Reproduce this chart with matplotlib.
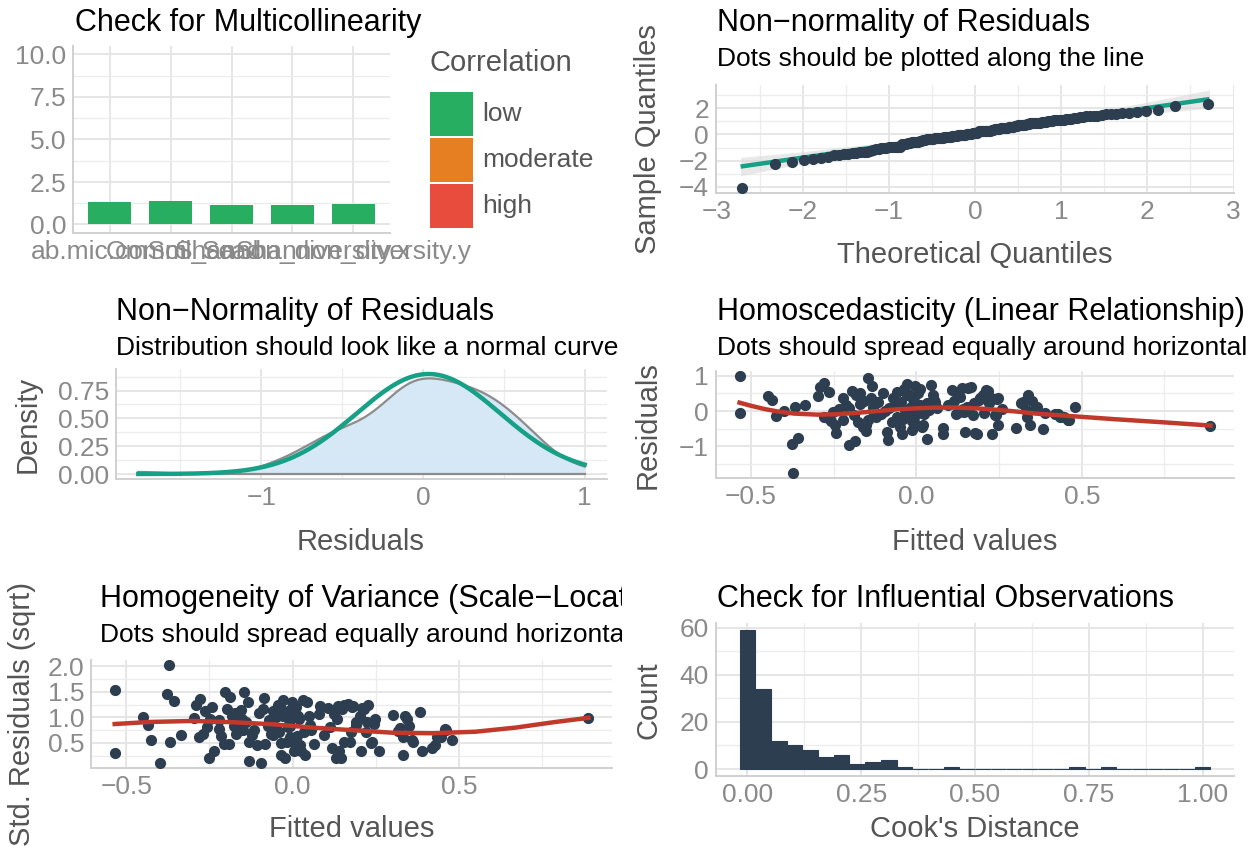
"""Model diagnostics panel (check_model style) rebuilt with matplotlib."""
from statistics import NormalDist

import numpy as np
import matplotlib
matplotlib.use("Agg")
import matplotlib.pyplot as plt
from matplotlib.patches import Rectangle
from matplotlib.ticker import MultipleLocator, FuncFormatter
from matplotlib.transforms import Bbox, TransformedBbox

plt.rcParams['font.family'] = ['Liberation Sans', 'DejaVu Sans']

W, H, DPI = 1255, 846, 100

# ---------------- data ----------------
vif_terms = ["ab.mic.comm", "OmSoil_ca", "Scad", "Shannon_diversity.x", "Shannon_diversity.y"]
vif_values = [1.35, 1.40, 1.12, 1.12, 1.18]
corr_levels = ["low", "moderate", "high"]

fitted_values = [
    -0.535, -0.533, -0.450, -0.436, -0.426, -0.400, -0.377, -0.358, -0.373, -0.368,
    -0.337, -0.297, -0.291, -0.279, -0.263, -0.281, -0.268, -0.258, -0.247, -0.242,
    -0.252, -0.235, -0.221, -0.214, -0.222, -0.205, -0.203, -0.190, -0.187, -0.196,
    -0.182, -0.172, -0.170, -0.176, -0.162, -0.160, -0.154, -0.152, -0.148, -0.146,
    -0.139, -0.133, -0.131, -0.130, -0.122, -0.115, -0.108, -0.101, -0.094, -0.090,
    -0.085, -0.082, -0.075, -0.072, -0.065, -0.060, -0.058, -0.050, -0.047, -0.044,
    -0.040, -0.038, -0.035, -0.034, -0.029, -0.028, -0.025, -0.022, -0.018, -0.015,
    -0.015, -0.010, -0.008, -0.008, -0.008, -0.003, 0.000, 0.005, 0.006, 0.010,
    0.012, 0.017, 0.019, 0.022, 0.025, 0.031, 0.033, 0.037, 0.043, 0.049,
    0.053, 0.056, 0.063, 0.079, 0.081, 0.095, 0.107, 0.112, 0.119, 0.124,
    0.130, 0.132, 0.137, 0.140, 0.145, 0.148, 0.154, 0.155, 0.166, 0.172,
    0.175, 0.178, 0.183, 0.190, 0.192, 0.202, 0.205, 0.210, 0.216, 0.220,
    0.225, 0.228, 0.236, 0.240, 0.244, 0.246, 0.248, 0.260, 0.302, 0.317,
    0.322, 0.332, 0.333, 0.337, 0.344, 0.350, 0.360, 0.363, 0.383, 0.390,
    0.419, 0.428, 0.435, 0.445, 0.459, 0.462, 0.478, 0.889,
]
residuals = [
    1.00, -0.04, 0.43, 0.31, -0.13, -0.005, -0.92, -0.75, -1.76, 0.12,
    0.18, 0.42, 0.67, 0.79, 0.54, -0.16, -0.20, -0.28, -0.40, -0.62,
    -0.02, 0.05, 0.38, 0.17, -0.26, 0.10, -0.96, -0.10, -0.84, 0.58,
    0.46, 0.50, 0.20, -0.30, -0.45, 0.30, -0.57, -0.40, -0.25, 0.95,
    0.36, 0.72, 0.12, -0.01, -0.18, 0.25, -0.09, 0.50, 0.006, -0.59,
    -0.82, 0.10, -0.30, 0.38, 0.20, 0.55, -0.18, -0.44, 0.25, -0.66,
    -0.22, 0.62, 0.03, -0.11, 0.78, 0.46, 0.48, -0.02, 0.12, -0.28,
    -0.54, 0.33, 0.41, -0.16, -0.30, 0.72, 0.12, -0.05, 0.50, 0.62,
    0.17, -0.45, -0.40, -0.09, 0.05, -0.78, 0.22, 0.03, 0.73, 0.45,
    0.31, 0.25, 0.10, -0.48, -0.64, 0.18, 0.60, 0.29, -0.07, 0.48,
    -0.02, 0.41, 0.65, 0.05, -0.02, -0.59, 0.12, 0.66, 0.68, -0.12,
    0.22, -0.62, -0.64, 0.31, 0.36, 0.45, -0.05, 0.60, 0.58, 0.22,
    0.36, -0.66, -0.11, -0.12, 0.33, 0.36, -0.40, 0.05, -0.47, 0.23,
    0.27, 0.03, -0.16, 0.46, -0.40, 0.30, 0.13, 0.12, -0.52, -0.05,
    -0.07, -0.09, -0.16, -0.16, -0.26, -0.24, 0.13, -0.42,
]
resid_sigma = 0.43

qq_line_x = [-2.72, 2.72]
qq_line_y = [-2.45, 2.70]
qq_band_x = [-2.72, -2.0, -1.0, 0.0, 1.0, 2.0, 2.72]
qq_band_lo = [-3.15, -2.22, -1.07, -0.05, 0.83, 1.58, 2.00]
qq_band_hi = [-1.75, -1.32, -0.57, 0.30, 1.31, 2.46, 3.40]

loess_resid_x = [-0.535, -0.50, -0.46, -0.42, -0.37, -0.30, -0.24, -0.18, -0.12, -0.06, 0.0,
                 0.06, 0.12, 0.18, 0.24, 0.30, 0.36, 0.42, 0.48, 0.60, 0.75, 0.889]
loess_resid_y = [0.24, 0.15, 0.06, -0.01, -0.07, -0.10, -0.09, -0.05, 0.0, 0.05, 0.08,
                 0.10, 0.10, 0.08, 0.04, -0.01, -0.07, -0.11, -0.15, -0.23, -0.32, -0.41]

loess_scale_x = [-0.535, -0.43, -0.30, -0.18, -0.06, 0.06, 0.18, 0.30, 0.42, 0.55, 0.67, 0.79, 0.889]
loess_scale_y = [0.87, 0.91, 0.93, 0.905, 0.865, 0.80, 0.75, 0.70, 0.69, 0.72, 0.80, 0.91, 0.99]

cook_counts = [59, 34, 12, 10, 8, 5, 6, 2, 3, 4, 1, 0, 0, 1, 0,
               0, 0, 0, 0, 0, 0, 1, 0, 1, 0, 0, 0, 0, 0, 1]
cook_max = 1.0

# ---------------- style ----------------
C_DOT = "#2c3e50"
C_TEAL = "#16a085"
C_RED = "#c0392b"
C_CORR = {"low": "#27ae60", "moderate": "#e67e22", "high": "#e74c3c"}
C_GRID = "#e4e4e4"
C_GRID_MINOR = "#ececec"
C_AXIS = "#d0d0d0"
C_TICK = "#8a8a8a"
C_LAB = "#555555"

FS_TITLE = 22
FS_SUB = 19
FS_AXT = 21
FS_TICK = 19


def expand(lo, hi, f=0.05):
    d = (hi - lo) * f
    return lo - d, hi + d


def minus_fmt(dec):
    return FuncFormatter(lambda v, _: f"{v:.{dec}f}".replace("-", "\u2212"))


def add_panel(fig, left, top, right, bottom):
    return fig.add_axes([left / W, 1 - bottom / H, (right - left) / W, (bottom - top) / H])


def lucid(ax, xmaj=None, xmin=None, ymaj=None, ymin=None):
    for s in ("top", "right"):
        ax.spines[s].set_visible(False)
    for s in ("left", "bottom"):
        ax.spines[s].set_color(C_AXIS)
        ax.spines[s].set_linewidth(1.4)
    if xmaj:
        ax.xaxis.set_major_locator(MultipleLocator(xmaj))
        ax.xaxis.set_minor_locator(MultipleLocator(xmin))
    if ymaj:
        ax.yaxis.set_major_locator(MultipleLocator(ymaj))
        ax.yaxis.set_minor_locator(MultipleLocator(ymin))
    ax.tick_params(which="both", length=0, labelsize=FS_TICK, labelcolor=C_TICK)
    ax.tick_params(axis="x", pad=5)
    ax.tick_params(axis="y", pad=5)
    ax.grid(True, which="major", color=C_GRID, lw=1.3)
    ax.grid(True, which="minor", color=C_GRID_MINOR, lw=0.9)
    ax.set_axisbelow(True)


def fig_text(fig, x, y, s, clip_right=None, **kw):
    t = fig.text(x / W, 1 - y / H, s, **kw)
    if clip_right is not None:
        t.set_clip_box(TransformedBbox(Bbox.from_extents(0, 0, clip_right / W, 1), fig.transFigure))
        t.set_clip_on(True)
    return t


def titles(fig, x, y, title, sub=None, clip_right=None):
    fig_text(fig, x, y, title, clip_right, fontsize=FS_TITLE, va="baseline", color="black")
    if sub:
        fig_text(fig, x, y + 35, sub, clip_right, fontsize=FS_SUB, va="baseline", color="black")


def xlabel(fig, x, y, s):
    fig_text(fig, x, y, s, fontsize=FS_AXT, va="baseline", ha="center", color=C_LAB)


def ylabel(fig, x, y, s):
    fig_text(fig, x, y, s, fontsize=FS_AXT, va="center", ha="center", rotation=90, color=C_LAB)


fig = plt.figure(figsize=(W / DPI, H / DPI), dpi=DPI)

r = np.array(residuals)
fv = np.array(fitted_values)
n = r.size

# ---- 1. multicollinearity ----
ax = add_panel(fig, 73, 46, 390, 233)
lucid(ax, ymaj=2.5, ymin=1.25)
pos = np.arange(1, len(vif_terms) + 1)
lev = ["low" if v < 5 else ("moderate" if v < 10 else "high") for v in vif_values]
ax.bar(pos, vif_values, width=0.7, color=[C_CORR[l] for l in lev], zorder=3)
ax.set_xticks(pos)
ax.set_xticklabels(vif_terms)
ax.set_xlim(0.4, len(vif_terms) + 0.6)
ax.set_ylim(-0.5, 10.5)
ax.yaxis.set_major_formatter(minus_fmt(1))
titles(fig, 75, 31, "Check for Multicollinearity", clip_right=622)
fig_text(fig, 430, 63, "Correlation", fontsize=21, va="center", color=C_LAB)
for i, l in enumerate(corr_levels):
    top = 92 + i * 46
    fig.add_artist(Rectangle((430 / W, 1 - (top + 44) / H), 43 / W, 44 / H,
                             transform=fig.transFigure, color=C_CORR[l], lw=0))
    fig_text(fig, 482, top + 22, l, fontsize=19, va="center", color=C_LAB)

# ---- 2. QQ plot ----
ax = add_panel(fig, 716, 85, 1234, 193)
lucid(ax, 1, 0.5, 2, 1)
sample_q = np.sort(r) / resid_sigma
theo_q = np.array([NormalDist().inv_cdf((i + 0.5) / n) for i in range(n)])
ax.fill_between(qq_band_x, qq_band_lo, qq_band_hi, color="#d9d9d9", alpha=0.6, lw=0, zorder=2)
ax.plot(qq_line_x, qq_line_y, color=C_TEAL, lw=3.2, zorder=3, solid_capstyle="butt")
ax.scatter(theo_q, sample_q, s=65, color=C_DOT, lw=0, zorder=4)
ax.set_xlim(-3.005, 3.005)
ax.set_ylim(*expand(min(sample_q.min(), min(qq_band_lo)), max(sample_q.max(), max(qq_band_hi))))
ax.xaxis.set_major_formatter(minus_fmt(0))
ax.yaxis.set_major_formatter(minus_fmt(0))
titles(fig, 717, 31, "Non\u2212normality of Residuals", "Dots should be plotted along the line", 1247)
xlabel(fig, 975, 263, "Theoretical Quantiles")
ylabel(fig, 648, 139, "Sample Quantiles")

# ---- 3. density of residuals ----
ax = add_panel(fig, 116, 369, 607, 479)
lucid(ax, 1, 0.5, 0.25, 0.125)
sd = r.std(ddof=1)
q75, q25 = np.percentile(r, [75, 25])
bw = 0.9 * min(sd, (q75 - q25) / 1.34) * n ** -0.2
grid = np.linspace(r.min(), r.max(), 512)
dens = np.exp(-0.5 * ((grid[:, None] - r[None, :]) / bw) ** 2).sum(1) / (n * bw * np.sqrt(2 * np.pi))
norm_d = np.array([NormalDist(r.mean(), sd).pdf(g) for g in grid])
ax.fill_between(grid, 0, dens, color="#d6e8f6", lw=0, zorder=2)
ax.plot(grid, dens, color="#8c8c8c", lw=1.6, zorder=3)
ax.plot([grid[0], grid[-1]], [0, 0], color="#8c8c8c", lw=1.6, zorder=3)
ax.plot(grid, norm_d, color=C_TEAL, lw=3.2, zorder=4)
ax.set_xlim(*expand(r.min(), r.max()))
ax.set_ylim(*expand(0, max(dens.max(), norm_d.max())))
ax.xaxis.set_major_formatter(minus_fmt(0))
ax.yaxis.set_major_formatter(minus_fmt(2))
titles(fig, 116, 320, "Non\u2212Normality of Residuals",
       "Distribution should look like a normal curve", 622)
xlabel(fig, 361, 550, "Residuals")
ylabel(fig, 28, 424, "Density")

# ---- 4. homoscedasticity ----
ax = add_panel(fig, 716, 371, 1234, 478)
lucid(ax, 0.5, 0.25, 1, 0.5)
ax.scatter(fv, r, s=65, color=C_DOT, lw=0, zorder=3)
ax.plot(loess_resid_x, loess_resid_y, color=C_RED, lw=3.2, zorder=4)
ax.set_xlim(*expand(fv.min(), fv.max()))
ax.set_ylim(*expand(r.min(), r.max()))
ax.xaxis.set_major_formatter(minus_fmt(1))
ax.yaxis.set_major_formatter(minus_fmt(0))
titles(fig, 717, 320, "Homoscedasticity (Linear Relationship)",
       "Dots should spread equally around horizontal line", 1247)
xlabel(fig, 975, 550, "Fitted values")
ylabel(fig, 648, 425, "Residuals")

# ---- 5. scale-location ----
ax = add_panel(fig, 91, 660, 612, 768)
lucid(ax, 0.5, 0.25, 0.5, 0.25)
std_sqrt = np.sqrt(np.abs(r) / resid_sigma)
ax.scatter(fv, std_sqrt, s=65, color=C_DOT, lw=0, zorder=3)
ax.plot(loess_scale_x, loess_scale_y, color=C_RED, lw=3.2, zorder=4)
ax.set_xlim(*expand(fv.min(), fv.max()))
ax.set_ylim(*expand(std_sqrt.min(), std_sqrt.max()))
ax.xaxis.set_major_formatter(minus_fmt(1))
ax.yaxis.set_major_formatter(minus_fmt(1))
titles(fig, 100, 607, "Homogeneity of Variance (Scale\u2212Location)",
       "Dots should spread equally around horizontal line", 622)
xlabel(fig, 352, 837, "Fitted values")
ylabel(fig, 22, 714, "Std. Residuals (sqrt)")

# ---- 6. cook's distance ----
ax = add_panel(fig, 716, 623, 1234, 776)
lucid(ax, 0.25, 0.125, 20, 10)
bw_c = cook_max / (len(cook_counts) - 1)
centers = np.arange(len(cook_counts)) * bw_c
ax.bar(centers, cook_counts, width=bw_c, color=C_DOT, edgecolor=C_DOT, lw=0.8, zorder=3)
ax.set_xlim(*expand(-bw_c / 2, cook_max + bw_c / 2))
ax.set_ylim(*expand(0, max(cook_counts)))
ax.xaxis.set_major_formatter(minus_fmt(2))
ax.yaxis.set_major_formatter(minus_fmt(0))
titles(fig, 717, 607, "Check for Influential Observations")
xlabel(fig, 975, 837, "Cook's Distance")
ylabel(fig, 648, 700, "Count")

fig.savefig("out.png", dpi=DPI)
